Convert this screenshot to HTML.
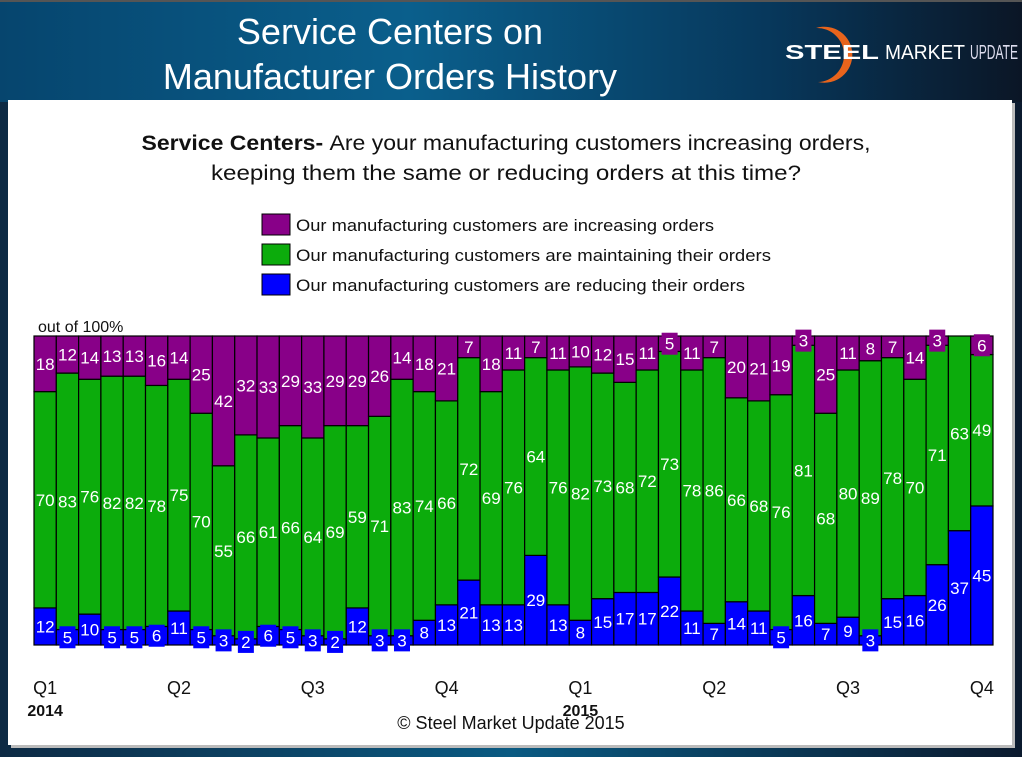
<!DOCTYPE html>
<html><head><meta charset="utf-8">
<style>
html,body{margin:0;padding:0;}
body{width:1022px;height:757px;overflow:hidden;background:linear-gradient(90deg,#0d2a44 0%,#0a5a82 50%,#0b1a2e 100%);font-family:"Liberation Sans",sans-serif;position:relative;}
#header{position:absolute;left:0;top:0;width:1022px;height:100px;background:linear-gradient(90deg,#06456e 0%,#0a5f8c 40%,#07385c 75%,#0b1626 100%);border-top:2px solid #555;}
#title{position:absolute;left:100px;top:7px;width:580px;text-align:center;color:#fff;font-size:36px;line-height:45px;}
#panel{position:absolute;left:8px;top:100px;width:1004px;height:645px;background:#fff;box-shadow:3px 3px 0 #bbb;}
svg text{font-family:"Liberation Sans",sans-serif;}
</style></head>
<body>
<div id="header">
 <div id="title">Service Centers on<br>Manufacturer Orders History</div>
 <svg style="position:absolute;left:780px;top:0px" width="242" height="100">
  <path d="M36,26 A28,28 0 1 1 38,80 A24,24 0 1 0 36,26 Z" fill="#e8641c"/>
  <text x="5" y="57" font-size="20" font-weight="bold" fill="#fff" textLength="94" lengthAdjust="spacingAndGlyphs">STEEL</text>
  <text x="105" y="57" font-size="20" fill="#fff" textLength="80" lengthAdjust="spacingAndGlyphs">MARKET</text>
  <text x="190" y="57" font-size="20" fill="#dde" textLength="48" lengthAdjust="spacingAndGlyphs">UPDATE</text>
 </svg>
</div>
<div id="panel"></div>
<svg id="chart" width="1022" height="757" style="position:absolute;left:0;top:0">
 <text x="506" y="150" text-anchor="middle" font-size="21" fill="#111" textLength="729" lengthAdjust="spacingAndGlyphs"><tspan font-weight="bold">Service Centers- </tspan>Are your manufacturing customers increasing orders,</text>
 <text x="506" y="180" text-anchor="middle" font-size="21" fill="#111" textLength="590" lengthAdjust="spacingAndGlyphs">keeping them the same or reducing orders at this time?</text>
 <g>
  <rect x="262" y="214" width="28" height="21" fill="#880088" stroke="#000"/>
  <text x="296" y="231" font-size="17" fill="#111" textLength="418" lengthAdjust="spacingAndGlyphs">Our manufacturing customers are increasing orders</text>
  <rect x="262" y="244" width="28" height="21" fill="#0cac0c" stroke="#000"/>
  <text x="296" y="261" font-size="17" fill="#111" textLength="475" lengthAdjust="spacingAndGlyphs">Our manufacturing customers are maintaining their orders</text>
  <rect x="262" y="274" width="28" height="21" fill="#0000ff" stroke="#000"/>
  <text x="296" y="291" font-size="17" fill="#111" textLength="449" lengthAdjust="spacingAndGlyphs">Our manufacturing customers are reducing their orders</text>
 </g>
 <text x="38" y="332" font-size="16" fill="#111">out of 100%</text>
 <g id="bars"></g>
 <g id="labels"></g>
 <text x="511" y="729" text-anchor="middle" font-size="18" fill="#111">© Steel Market Update 2015</text>
</svg>
<script>
const increasing=[18,12,14,13,13,16,14,25,42,32,33,29,33,29,29,26,14,18,21,7,18,11,7,11,10,12,15,11,5,11,7,20,21,19,3,25,11,8,7,14,3,0,6];
const maintaining=[70,83,76,82,82,78,75,70,55,66,61,66,64,69,59,71,83,74,66,72,69,76,64,76,82,73,68,72,73,78,86,66,68,76,81,68,80,89,78,70,71,63,49];
const reducing=[12,5,10,5,5,6,11,5,3,2,6,5,3,2,12,3,3,8,13,21,13,13,29,13,8,15,17,17,22,11,7,14,11,5,16,7,9,3,15,16,26,37,45];
const quarterLabels=["Q1","Q2","Q3","Q4","Q1","Q2","Q3","Q4"];
const quarterIdx=[0,6,12,18,24,30,36,42];
const yearLabels=["2014","2015"];
const yearIdx=[0,24];

const L=34,R=993,T=336,B=645;
const n=reducing.length, bw=(R-L)/n;
const xs=i=>L+i*bw;
const ys=v=>B-(v/100)*(B-T);
const ns="http://www.w3.org/2000/svg";
const gb=document.getElementById('bars'), gl=document.getElementById('labels'), svg=document.getElementById('chart');
function mk(tag,attrs,parent){const e=document.createElementNS(ns,tag);for(const k in attrs)e.setAttribute(k,attrs[k]);parent.appendChild(e);return e;}
const series=[["reducing",reducing,"#0000ff"],["maintaining",maintaining,"#0cac0c"],["increasing",increasing,"#880088"]];
for(let i=0;i<n;i++){
 let base=0;
 for(const [nm,arr,col] of series){
  const v=arr[i]; if(v<=0){continue;}
  const y0=ys(base), y1=ys(base+v);
  const r=mk('rect',{x:xs(i),y:y1,width:bw,height:y0-y1,fill:col,stroke:'#000','stroke-width':1.2},gb);
  
  
  const cy=(y0+y1)/2, cx=xs(i)+bw/2;
  if(y0-y1<20){
   const bx=mk('rect',{x:cx-8,y:cy-11,width:16,height:22,fill:col},gl);
   
   
  }
  const t=mk('text',{x:cx,y:cy+6,'text-anchor':'middle','font-size':17,fill:'#fff'},gl);
  t.textContent=v;
  
  
  base+=v;
 }
}
quarterLabels.forEach((q,k)=>{
 const t=mk('text',{x:xs(quarterIdx[k])+bw/2,y:694,'text-anchor':'middle','font-size':18,fill:'#111'},svg);
 t.textContent=q;
 
 
});
yearLabels.forEach((y,k)=>{
 const t=mk('text',{x:xs(yearIdx[k])+bw/2,y:716,'text-anchor':'middle','font-size':16,'font-weight':'bold',fill:'#111'},svg);
 t.textContent=y;
 
 
});
</script>
</body></html>
